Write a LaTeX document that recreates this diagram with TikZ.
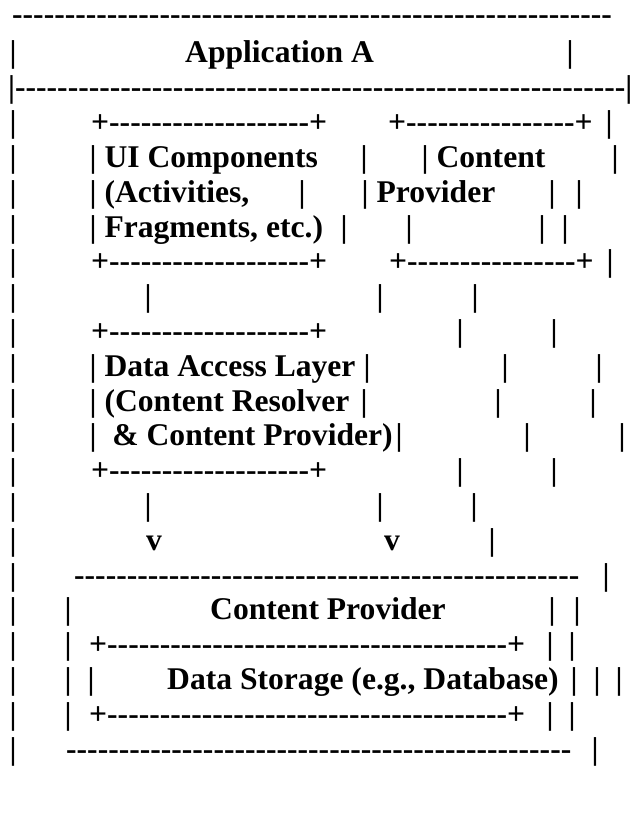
\documentclass[tikz,border=0pt]{standalone}
\usepackage{fontspec}
\setmainfont{Liberation Serif}
\usepackage{tikz}
\newfontfamily\artfont{Liberation Serif}[BoldFont={Liberation Serif Bold}]
\newcommand\artsize{\artfont\bfseries\fontsize{31.6pt}{35pt}\selectfont}
% a run of plain hyphens (kern keeps them from turning into dashes)
\newcommand\dashrow[1]{\foreach\k in {1,...,#1}{-\kern0pt}}

\begin{document}
\begin{tikzpicture}[x=1pt, y=-1pt,
  art/.style={anchor=base west, inner sep=0pt, font=\artsize},
  bar/.style={anchor=base, inner sep=0pt, font=\artsize}
]
  \useasboundingbox (0,0) rectangle (632,818);

  % Application A frame
  \node[art] (appTop) at (12,25) {\dashrow{57}};
  \node[art] (appTitle) at (185,63) {Application A};
  \node[bar] (appTitleR) at (570,63) {|};
  \node[art] (appRule) at (8,97.8) {|\dashrow{58}|};
  \foreach \n in {2,4,5,...,22}
    \node[bar] (appLeft\n) at (13,{63+34.8*(\n-2)}) {|};

  % UI components box and content provider box
  \node[art] (uiTop) at (91,132.6) {+\dashrow{19}+};
  \node[art] (cpTop) at (388,132.6) {+\dashrow{16}+};
  \node[bar] (appRight4) at (609,132.6) {|};

  \node[art] (ui1) at (89.5,167.4) {| UI Components};
  \node[bar] (ui1R) at (364,167.4) {|};
  \node[art] (cp1) at (421.5,167.4) {| Content};
  \node[bar] (cp1R) at (615,167.4) {|};

  \node[art] (ui2) at (89.5,202.2) {| (Activities,};
  \node[bar] (ui2R) at (302,202.2) {|};
  \node[art] (cp2) at (361.5,202.2) {| Provider};
  \node[bar] (cp2R) at (552,202.2) {|};
  \node[bar] (appRight6) at (579,202.2) {|};

  \node[art] (ui3) at (89.5,237) {| Fragments, etc.)};
  \node[bar] (ui3R) at (344,237) {|};
  \node[bar] (cp3L) at (409,237) {|};
  \node[bar] (cp3R) at (542,237) {|};
  \node[bar] (appRight7) at (565,237) {|};

  \node[art] (uiBot) at (91,271.8) {+\dashrow{19}+};
  \node[art] (cpBot) at (389,271.8) {+\dashrow{16}+};
  \node[bar] (appRight8) at (610,271.8) {|};

  % links down to the data access layer
  \node[bar] (uiLink1) at (148,306.6) {|};
  \node[bar] (cpLink1) at (380,306.6) {|};
  \node[bar] (appRight9) at (475,306.6) {|};

  % data access layer box
  \node[art] (dalTop) at (91,341.4) {+\dashrow{19}+};
  \node[bar] (cpLink2) at (460,341.4) {|};
  \node[bar] (appRight10) at (554,341.4) {|};

  \node[art] (dal1) at (89.5,376.2) {| Data Access Layer};
  \node[bar] (dal1R) at (367,376.2) {|};
  \node[bar] (cpLink3) at (505,376.2) {|};
  \node[bar] (appRight11) at (599,376.2) {|};

  \node[art] (dal2) at (89.5,411) {| (Content Resolver};
  \node[bar] (dal2R) at (364,411) {|};
  \node[bar] (cpLink4) at (498,411) {|};
  \node[bar] (appRight12) at (593,411) {|};

  \node[art] (dal3) at (89.5,445.8) {|\ \ \& Content Provider)};
  \node[bar] (dal3R) at (399,445.8) {|};
  \node[bar] (cpLink5) at (527,445.8) {|};
  \node[bar] (appRight13) at (622,445.8) {|};

  \node[art] (dalBot) at (91,480.6) {+\dashrow{19}+};
  \node[bar] (cpLink6) at (460,480.6) {|};
  \node[bar] (appRight14) at (554,480.6) {|};

  \node[bar] (dalLink) at (148,515.4) {|};
  \node[bar] (cpLink7) at (380,515.4) {|};
  \node[bar] (appRight15) at (474,515.4) {|};

  \node[bar] (dalArrow) at (154,550.2) {v};
  \node[bar] (cpArrow) at (392,550.2) {v};
  \node[bar] (appRight16) at (492,550.2) {|};

  % content provider with data storage
  \node[art] (provTop) at (74,585) {\dashrow{48}};
  \node[bar] (appRight17) at (606,585) {|};

  \node[bar] (prov1L) at (68,619.8) {|};
  \node[art] (provTitle) at (210,619.8) {Content Provider};
  \node[bar] (prov1R) at (552,619.8) {|};
  \node[bar] (appRight18) at (577,619.8) {|};

  \node[bar] (prov2L) at (68,654.6) {|};
  \node[art] (dbTop) at (89,654.6) {+\dashrow{38}+};
  \node[bar] (prov2R) at (550,654.6) {|};
  \node[bar] (appRight19) at (572,654.6) {|};

  \node[bar] (prov3L) at (68,689.4) {|};
  \node[bar] (db1L) at (91,689.4) {|};
  \node[art] (dbTitle) at (167,689.4) {Data Storage (e.g., Database)};
  \node[bar] (db1R) at (574,689.4) {|};
  \node[bar] (prov3R) at (597,689.4) {|};
  \node[bar] (appRight20) at (619,689.4) {|};

  \node[bar] (prov4L) at (68,724.2) {|};
  \node[art] (dbBot) at (89,724.2) {+\dashrow{38}+};
  \node[bar] (prov4R) at (550,724.2) {|};
  \node[bar] (appRight21) at (572,724.2) {|};

  \node[art] (provBot) at (66,759) {\dashrow{48}};
  \node[bar] (appRight22) at (595,759) {|};
\end{tikzpicture}
\end{document}
